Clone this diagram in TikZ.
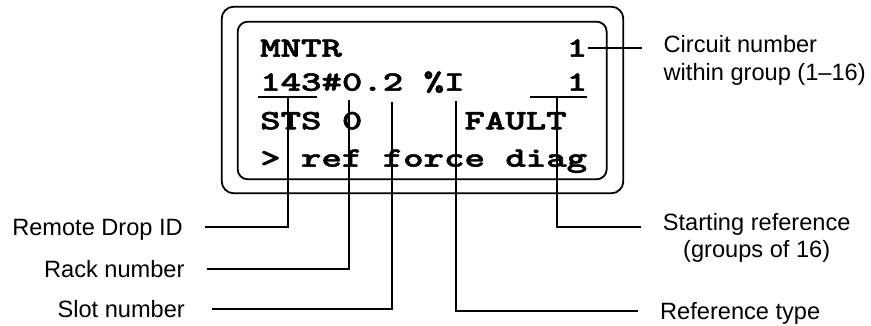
\documentclass[tikz,border=0pt]{standalone}
\usepackage{fontspec}
\usepackage{graphicx}
\newfontfamily\lblfont{Liberation Sans}
\newfontfamily\lcdfont{lmmonolt10-bold.otf}[FakeBold=1.6]
\newcommand\lcdtext[1]{\scalebox{1.39}[1]{\fontsize{28}{32}\lcdfont #1}}
\begin{document}
\begin{tikzpicture}[x=1pt,y=-1pt,
  box/.style={draw, line width=1.8pt, rounded corners=12pt},
  lcd/.style={anchor=base west, inner sep=0pt},
  lbl/.style={font=\fontsize{23.6}{27.5}\selectfont\lblfont, inner xsep=22pt, inner ysep=0pt, text height=16.9pt, text depth=0pt},
  lbltwo/.style={font=\fontsize{23.6}{27.5}\selectfont\lblfont, inner xsep=22pt, inner ysep=0pt},
  lead/.style={draw, line width=1.8pt}]
\useasboundingbox (0,0) rectangle (871,326);
% display housing
\draw[box] (221.7,6.7) rectangle (623.3,193.3);
\draw[box, rounded corners=10pt] (237.7,21.7) rectangle (606.7,179.3);
% display text
\node[lcd] (l1) at (260,56.7) {\lcdtext{MNTR~~~~~~~~~~~1}};
\node[lcd] (l2) at (260,90.7) {\lcdtext{143\#0.2~\%I~~~~~1}};
\node[lcd] (l3) at (260,129.3) {\lcdtext{STS~0~~~~~FAULT}};
\node[lcd] (l4) at (260,166.7) {\lcdtext{>~ref~force~diag}};
% underlines
\coordinate (ua) at (258,96.7);
\coordinate (ub) at (317,96.7);
\coordinate (uc) at (530,96.7);
\coordinate (ud) at (587,96.7);
\draw[lead] (ua) -- (ub);
\draw[lead] (uc) -- (ud);
% labels
\node[lbl, anchor=east] (rdi) at (205,227) {Remote Drop ID};
\node[lbl, anchor=east] (rack) at (206.7,269.3) {Rack number};
\node[lbl, anchor=east, inner xsep=26.7pt] (slot) at (211.7,309.3) {Slot number};
\node[lbl, anchor=west] (rtype) at (638,311) {Reference type};
\node[lbltwo, anchor=north west, align=left] (circ) at (641.5,35.5) {Circuit number\\within group (1–16)};
\node[lbltwo, anchor=north, align=center] (sref) at (756.7,213) {Starting reference\\(groups of 16)};
% leader end points
\coordinate (c1) at (588,48.3);
\coordinate (sr) at (557.3,96.7);
\coordinate (rd) at (288.3,96.7);
\coordinate (rk) at (349.3,100);
\coordinate (sl) at (391.7,101.7);
\coordinate (rt) at (456,101);
% leaders
\draw[lead] ([yshift=-12.8pt]circ.north west) -- (c1);
\draw[lead] ([yshift=-14.3pt]sref.north west) -| (sr);
\draw[lead] (rdi.east) -| (rd);
\draw[lead] (rack.east) -| (rk);
\draw[lead] (slot.east) -| (sl);
\draw[lead] (rtype.west) -| (rt);
\end{tikzpicture}
\end{document}
